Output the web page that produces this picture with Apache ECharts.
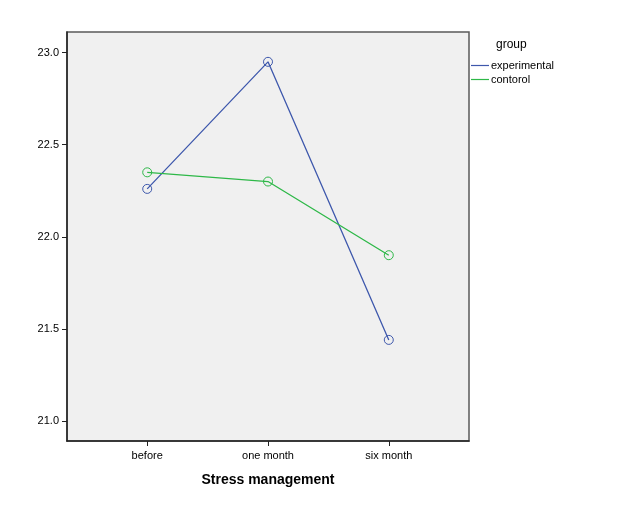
<!DOCTYPE html>
<html>
<head>
<meta charset="utf-8">
<script src="https://cdn.jsdelivr.net/npm/echarts@6/dist/echarts.min.js"></script>
<style>
html,body{margin:0;padding:0;background:#fff;}
#box{width:627px;height:526px;}
</style>
</head>
<body>
<div id="box"></div>
<script>
const categories = ["before", "one month", "six month"];
const yTicks = [21.0, 21.5, 22.0, 22.5, 23.0];
const experimental = [22.26, 22.95, 21.44];
const contorol = [22.35, 22.30, 21.90];

const blue = "#3e58ac";
const green = "#2eb848";

function toPoints(arr){
    return arr.map(function(v, i){ return [i, v]; });
}

let mycharts = echarts.init(document.getElementById("box"));
mycharts.setOption({
    backgroundColor:"#ffffff",
    animation:false,
    textStyle:{fontFamily:"Liberation Sans, Arial, sans-serif"},
    grid:{
        left:67,
        top:32,
        width:402,
        height:409,
        show:true,
        backgroundColor:"#f0f0f0",
        borderColor:"#5a5a5a",
        borderWidth:1.5
    },
    legend:{
        orient:"vertical",
        left:471,
        top:60,
        padding:0,
        icon:"rect",
        itemWidth:18,
        itemHeight:1.2,
        itemGap:3,
        itemStyle:{borderWidth:0},
        textStyle:{fontSize:11, color:"#000", padding:[0,0,0,-3]},
        data:[
            {name:"experimental", itemStyle:{color:blue, borderWidth:0}},
            {name:"contorol", itemStyle:{color:green, borderWidth:0}}
        ]
    },
    graphic:[{
        type:"text",
        left:496,
        top:39,
        style:{text:"group", fontSize:12, fill:"#000", fontFamily:"Liberation Sans, Arial, sans-serif"}
    }],
    xAxis:{
        type:"value",
        min:-0.664,
        max:2.664,
        name:"Stress management",
        nameLocation:"middle",
        nameGap:32,
        nameTextStyle:{fontSize:14, fontWeight:"bold", color:"#000"},
        axisLine:{show:true, onZero:false, lineStyle:{color:"#222", width:1.5}},
        axisTick:{show:true, length:5, lineStyle:{color:"#222"}, customValues:[0,1,2]},
        axisLabel:{
            fontSize:11, color:"#000", margin:9,
            customValues:[0,1,2],
            formatter:function(v){ return categories[Math.round(v)]; }
        },
        splitLine:{show:false}
    },
    yAxis:{
        type:"value",
        min:20.891,
        max:23.112,
        axisLine:{show:true, onZero:false, lineStyle:{color:"#222", width:1.5}},
        axisTick:{show:true, length:5, lineStyle:{color:"#222"}, customValues:yTicks},
        axisLabel:{
            fontSize:11, color:"#000", margin:8,
            customValues:yTicks,
            formatter:function(v){ return v.toFixed(1); }
        },
        splitLine:{show:false}
    },
    series:[
        {
            name:"experimental",
            type:"line",
            data:toPoints(experimental),
            symbol:"circle",
            symbolSize:9,
            lineStyle:{width:1.3, color:blue},
            itemStyle:{color:"rgba(0,0,0,0)", borderColor:blue, borderWidth:1}
        },
        {
            name:"contorol",
            type:"line",
            data:toPoints(contorol),
            symbol:"circle",
            symbolSize:9,
            lineStyle:{width:1.3, color:green},
            itemStyle:{color:"rgba(0,0,0,0)", borderColor:green, borderWidth:1}
        }
    ]
});
</script>
</body>
</html>
